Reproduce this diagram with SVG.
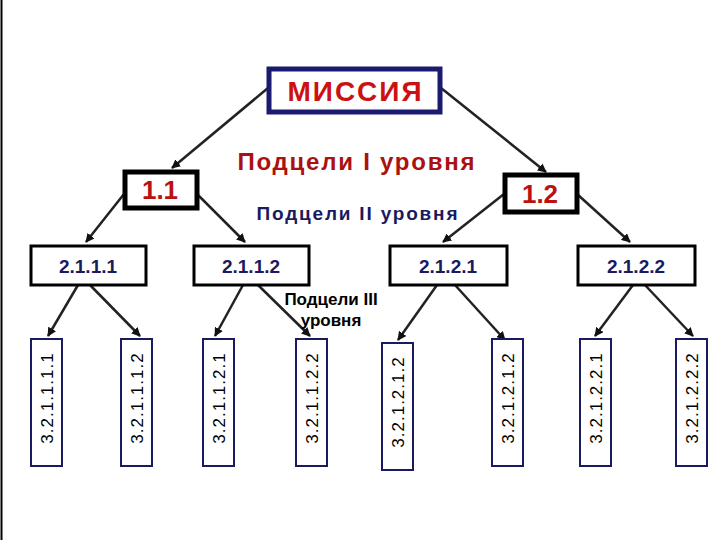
<svg xmlns="http://www.w3.org/2000/svg" width="720" height="540" viewBox="0 0 720 540">
<defs>
<marker id="ah" viewBox="0 0 10 10" refX="9" refY="5" markerWidth="9" markerHeight="9" markerUnits="userSpaceOnUse" orient="auto"><path d="M0,0 L10,5 L0,10 z" fill="#111"/></marker>
<style>
.c line{stroke:#222;stroke-width:2.5;marker-end:url(#ah)}
.l2 rect{fill:#fff;stroke:#000;stroke-width:3}
.l2 text{font:bold 19px "Liberation Sans",Arial,sans-serif;fill:#1a1a5e;text-anchor:middle}
.l3 rect{fill:#fff;stroke:#1a1a5e;stroke-width:2}
.l3 text{font:17px "Liberation Sans",Arial,sans-serif;fill:#000;text-anchor:middle;letter-spacing:1px}
.lbl{font-family:"Liberation Sans",Arial,sans-serif;font-weight:bold;text-anchor:middle}
</style>
</defs>
<rect width="720" height="540" fill="#fff"/>
<line x1="1.5" y1="0" x2="1.5" y2="540" stroke="#000" stroke-width="2"/>
<g class="c">
<line x1="268" y1="88" x2="172" y2="168"/>
<line x1="441" y1="88" x2="546" y2="172"/>
<line x1="124" y1="194" x2="86" y2="242"/>
<line x1="197" y1="194" x2="245" y2="242"/>
<line x1="504" y1="194" x2="443" y2="242"/>
<line x1="577" y1="194" x2="630" y2="242"/>
<line x1="78" y1="285" x2="48" y2="336"/>
<line x1="90" y1="285" x2="140" y2="336"/>
<line x1="243" y1="285" x2="215" y2="336"/>
<line x1="258" y1="285" x2="310" y2="336"/>
<line x1="437" y1="285" x2="398" y2="340"/>
<line x1="455" y1="285" x2="505" y2="340"/>
<line x1="633" y1="285" x2="595" y2="336"/>
<line x1="645" y1="285" x2="693" y2="336"/>
</g>
<g id="mission"><rect x="269" y="69" width="171" height="43" fill="#fff" stroke="#1a1a6e" stroke-width="5"/><text x="354.5" y="101" class="lbl" font-size="28" fill="#cc1111" textLength="134">МИССИЯ</text></g>
<g id="n11"><rect x="125" y="172" width="72" height="36" fill="#fff" stroke="#000" stroke-width="5"/><text x="160" y="199" class="lbl" font-size="26" fill="#bb1111">1.1</text></g>
<g id="n12"><rect x="505" y="175" width="72" height="37" fill="#fff" stroke="#000" stroke-width="5"/><text x="540" y="203" class="lbl" font-size="26" fill="#bb1111">1.2</text></g>
<text x="356" y="170" class="lbl" font-size="24" fill="#aa1111" textLength="237">Подцели I уровня</text>
<text x="357" y="220" class="lbl" font-size="19" fill="#1a1a5e" textLength="201">Подцели II уровня</text>
<text x="331" y="305" class="lbl" font-size="17" fill="#000">Подцели III</text>
<text x="331" y="326" class="lbl" font-size="17" fill="#000">уровня</text>
<g id="n2111" class="l2"><rect x="31" y="246" width="115" height="39"/><text x="88" y="273">2.1.1.1</text></g>
<g id="n2112" class="l2"><rect x="194" y="246" width="115" height="39"/><text x="251" y="273">2.1.1.2</text></g>
<g id="n2121" class="l2"><rect x="390" y="246" width="117" height="39"/><text x="448" y="273">2.1.2.1</text></g>
<g id="n2122" class="l2"><rect x="578" y="246" width="117" height="39"/><text x="636" y="273">2.1.2.2</text></g>
<g id="a" class="l3"><rect x="31" y="339" width="31" height="127"/><text transform="translate(53,398) rotate(-90)">3.2.1.1.1.1</text></g>
<g id="b" class="l3"><rect x="121" y="339" width="31" height="127"/><text transform="translate(143,398) rotate(-90)">3.2.1.1.1.2</text></g>
<g id="c" class="l3"><rect x="203" y="339" width="31" height="127"/><text transform="translate(225,398) rotate(-90)">3.2.1.1.2.1</text></g>
<g id="d" class="l3"><rect x="296" y="339" width="31" height="127"/><text transform="translate(318,398) rotate(-90)">3.2.1.1.2.2</text></g>
<g id="e" class="l3"><rect x="382" y="343" width="31" height="127"/><text transform="translate(404,402) rotate(-90)">3.2.1.2.1.2</text></g>
<g id="f" class="l3"><rect x="492" y="339" width="31" height="127"/><text transform="translate(514,398) rotate(-90)">3.2.1.2.1.2</text></g>
<g id="g" class="l3"><rect x="580" y="339" width="31" height="127"/><text transform="translate(602,398) rotate(-90)">3.2.1.2.2.1</text></g>
<g id="h" class="l3"><rect x="676" y="339" width="31" height="127"/><text transform="translate(698,398) rotate(-90)">3.2.1.2.2.2</text></g>
</svg>
